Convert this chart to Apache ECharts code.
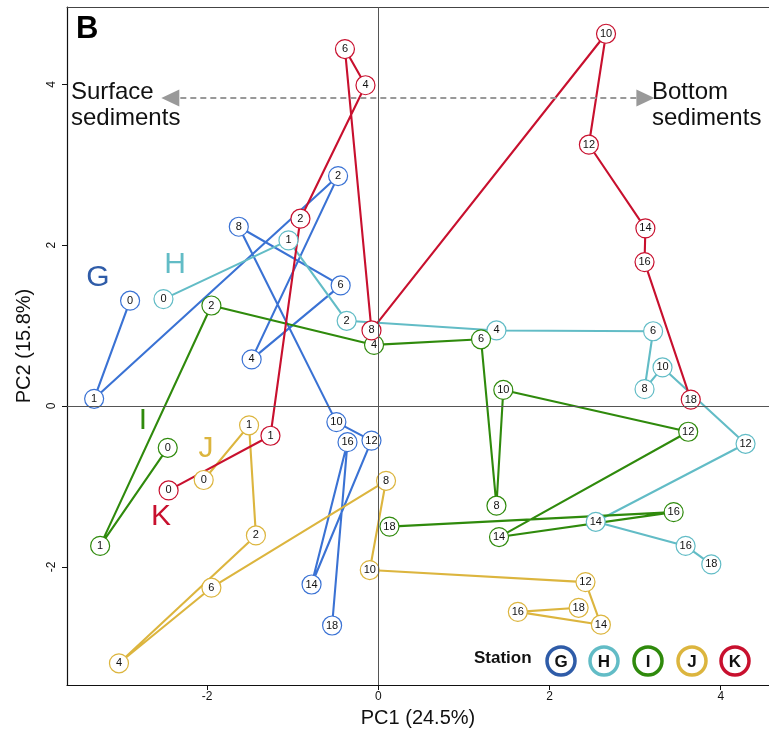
<!DOCTYPE html>
<html>
<head>
<meta charset="utf-8">
<script src="https://cdn.jsdelivr.net/npm/echarts@6/dist/echarts.min.js"></script>
<style>
  html, body { margin: 0; padding: 0; background: #fff; }
  #chart { width: 769px; height: 733px; }
</style>
</head>
<body>
<div id="chart"></div>
<script>
// Sampling labels shared by every station (drawn inside each marker)
const samples = ['0', '1', '2', '4', '6', '8', '10', '12', '14', '16', '18'];

// PCA scores per station: PC1 and PC2, in the order of `samples`
const stations = ['G', 'H', 'I', 'J', 'K'];
const pc1G = [-2.90, -3.32, -0.47, -1.48, -0.44, -1.63, -0.49, -0.08, -0.78, -0.36, -0.54];
const pc2G = [1.31, 0.09, 2.86, 0.58, 1.50, 2.23, -0.20, -0.43, -2.22, -0.45, -2.73];
const pc1H = [-2.51, -1.05, -0.37, 1.38, 3.21, 3.11, 3.32, 4.29, 2.54, 3.59, 3.89];
const pc2H = [1.33, 2.06, 1.06, 0.94, 0.93, 0.21, 0.48, -0.47, -1.44, -1.74, -1.97];
const pc1I = [-2.46, -3.25, -1.95, -0.05, 1.20, 1.38, 1.46, 3.62, 1.41, 3.45, 0.13];
const pc2I = [-0.52, -1.74, 1.25, 0.76, 0.83, -1.24, 0.20, -0.32, -1.63, -1.32, -1.50];
const pc1J = [-2.04, -1.51, -1.43, -3.03, -1.95, 0.09, -0.10, 2.42, 2.60, 1.63, 2.34];
const pc2J = [-0.92, -0.24, -1.61, -3.20, -2.26, -0.93, -2.04, -2.19, -2.72, -2.56, -2.51];
const pc1K = [-2.45, -1.26, -0.91, -0.15, -0.39, -0.08, 2.66, 2.46, 3.12, 3.11, 3.65];
const pc2K = [-1.05, -0.37, 2.33, 3.99, 4.44, 0.94, 4.63, 3.25, 2.21, 1.79, 0.08];

// Axis tick values
const xTicks = [-2, 0, 2, 4];
const yTicks = [-2, 0, 2, 4];

const lineColors = {
  G: '#3a72d4', H: '#62bcc6', I: '#2f8a0c', J: '#dcb53e', K: '#c8102e'
};
const nameColors = {
  G: '#2f5ca8', H: '#62bcc6', I: '#2f8a0c', J: '#dcb53e', K: '#c8102e'
};
const scores = {
  G: [pc1G, pc2G], H: [pc1H, pc2H], I: [pc1I, pc2I], J: [pc1J, pc2J], K: [pc1K, pc2K]
};

const FONT = '"Liberation Sans", Arial, Helvetica, sans-serif';

const series = [];

// Station trajectories (lines), drawn beneath all markers
stations.forEach(function (st) {
  const xs = scores[st][0], ys = scores[st][1];
  series.push({
    type: 'line',
    name: st + '-path',
    data: xs.map(function (x, i) { return [x, ys[i]]; }),
    showSymbol: false,
    symbol: 'none',
    lineStyle: { color: lineColors[st], width: 2.1 },
    z: 2,
    silent: true,
    animation: false
  });
});

// Sample markers with their labels
stations.forEach(function (st) {
  const xs = scores[st][0], ys = scores[st][1];
  series.push({
    type: 'scatter',
    name: st,
    data: xs.map(function (x, i) { return { value: [x, ys[i]], name: samples[i] }; }),
    symbol: 'circle',
    symbolSize: 19,
    itemStyle: { color: '#ffffff', borderColor: lineColors[st], borderWidth: 1.2, opacity: 1 },
    label: {
      show: true,
      position: 'inside',
      formatter: function (p) { return p.name; },
      color: '#111',
      fontSize: 11,
      fontFamily: FONT
    },
    z: 4,
    silent: true,
    animation: false
  });
});

// Zero reference lines and the surface / bottom direction arrow
series.push({
  type: 'line',
  name: 'guides',
  data: [],
  silent: true,
  z: 1,
  markLine: {
    silent: true,
    symbol: 'none',
    animation: false,
    label: { show: false },
    lineStyle: { color: '#555', width: 1, type: 'solid' },
    data: [{ xAxis: 0 }, { yAxis: 0 }]
  }
});
series.push({
  type: 'line',
  name: 'arrow',
  data: [],
  silent: true,
  z: 1,
  markLine: {
    silent: true,
    animation: false,
    symbol: ['triangle', 'triangle'],
    symbolSize: [17, 18],
    label: { show: false },
    lineStyle: { color: '#999', width: 2, type: [6, 4] },
    itemStyle: { color: '#999' },
    data: [[{ coord: [-2.43, 3.83] }, { coord: [3.12, 3.83] }]]
  }
});

const legendX = [561, 604, 648, 692, 735];
const legendGraphics = [{
  type: 'text',
  left: 474, top: 650,
  style: { text: 'Station', font: 'bold 17px ' + FONT, fill: '#111' }
}];
stations.forEach(function (st, i) {
  legendGraphics.push({
    type: 'circle',
    shape: { cx: legendX[i], cy: 661, r: 14 },
    style: { fill: '#fff', stroke: st === 'G' ? '#2f5ca8' : lineColors[st], lineWidth: 3.5 }
  });
  legendGraphics.push({
    type: 'text',
    x: legendX[i], y: 662,
    style: { text: st, font: 'bold 17px ' + FONT, fill: '#111', align: 'center', verticalAlign: 'middle' }
  });
});

// Station name tags placed beside each trajectory start
const tagPos = { G: [98, 278], H: [175, 265], I: [143, 421], J: [206, 449], K: [161, 517] };
const tagGraphics = stations.map(function (st) {
  return {
    type: 'text',
    x: tagPos[st][0], y: tagPos[st][1],
    style: { text: st, font: '30px ' + FONT, fill: nameColors[st], align: 'center', verticalAlign: 'middle' }
  };
});

const X_MIN = -3.637, X_MAX = 4.564;

const chart = echarts.init(document.getElementById('chart'), null, { renderer: 'canvas' });
chart.setOption({
  backgroundColor: '#fff',
  animation: false,
  grid: { left: 67, top: 7, right: 0, bottom: 48, show: false },
  xAxis: [{
    type: 'value',
    min: X_MIN, max: X_MAX,
    name: 'PC1 (24.5%)',
    nameLocation: 'middle',
    nameGap: 23,
    nameTextStyle: { fontSize: 20, color: '#111', fontFamily: FONT },
    axisLine: { show: true, onZero: false, lineStyle: { color: '#111', width: 1.2 } },
    axisTick: { show: true, length: 5, customValues: xTicks, lineStyle: { color: '#111' } },
    axisLabel: { customValues: xTicks, color: '#111', fontSize: 12, margin: 6, fontFamily: FONT },
    splitLine: { show: false }
  }, {
    // top frame line of the panel
    type: 'value',
    position: 'top',
    min: X_MIN, max: X_MAX,
    axisLine: { show: true, onZero: false, lineStyle: { color: '#444', width: 1 } },
    axisTick: { show: false },
    axisLabel: { show: false },
    splitLine: { show: false }
  }],
  yAxis: {
    type: 'value',
    min: -3.470, max: 4.963,
    name: 'PC2 (15.8%)',
    nameLocation: 'middle',
    nameGap: 33,
    nameRotate: 90,
    nameTextStyle: { fontSize: 20, color: '#111', fontFamily: FONT },
    axisLine: { show: true, onZero: false, lineStyle: { color: '#111', width: 1.2 } },
    axisTick: { show: true, length: 5, customValues: yTicks, lineStyle: { color: '#111' } },
    axisLabel: { customValues: yTicks, color: '#111', fontSize: 12, margin: 9, rotate: 90, fontFamily: FONT },
    splitLine: { show: false }
  },
  graphic: [
    { type: 'text', left: 76, top: 14, style: { text: 'B', font: 'bold 31px ' + FONT, fill: '#000' } },
    { type: 'text', left: 71, top: 79, style: { text: 'Surface\nsediments', font: '24px ' + FONT, fill: '#111', lineHeight: 26 } },
    { type: 'text', left: 652, top: 79, style: { text: 'Bottom\nsediments', font: '24px ' + FONT, fill: '#111', lineHeight: 26 } }
  ].concat(tagGraphics, legendGraphics),
  series: series
});
</script>
</body>
</html>
